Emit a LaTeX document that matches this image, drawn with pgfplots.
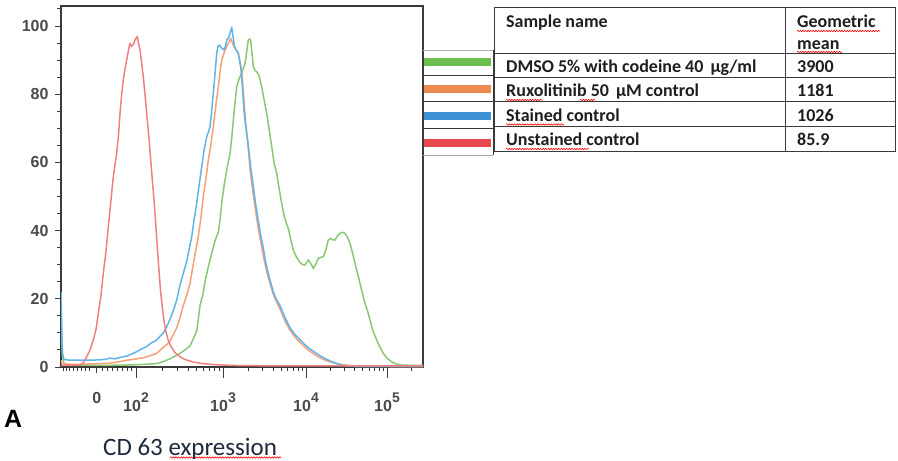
\documentclass[border=0pt]{standalone}
\usepackage{pgfplots}
\pgfplotsset{compat=1.18}
\usepackage{fontspec}
\setmainfont{Liberation Sans}
\newfontfamily\carl{Carlito}
\usetikzlibrary{decorations.pathmorphing}

\definecolor{axgray}{HTML}{3A3A3A}
\definecolor{tickgray}{HTML}{4A4A4A}
\definecolor{cRed}{RGB}{240,128,128}
\definecolor{cBlue}{RGB}{95,180,235}
\definecolor{cOrange}{RGB}{246,160,120}
\definecolor{cGreen}{RGB}{135,200,115}
\definecolor{sGreen}{HTML}{6BBF4E}
\definecolor{sOrange}{HTML}{EF8A4E}
\definecolor{sBlue}{HTML}{3E92D6}
\definecolor{sRed}{HTML}{E9484E}
\definecolor{txt}{HTML}{1E1E1E}
\definecolor{navy}{HTML}{1E2A40}

\newcommand{\dec}[1]{10\raisebox{9bp}{\fontsize{14bp}{14bp}\selectfont #1}}

\begin{document}
\begin{tikzpicture}
\useasboundingbox (0,0) rectangle (898bp,-461bp);
\begin{axis}[
  at={(61bp,-367bp)}, anchor=south west,
  scale only axis, width=362bp, height=361bp,
  xmin=61, xmax=423, ymin=0, ymax=105.87,
  axis line style={axgray, line width=1.6bp},
  tick align=outside,
  xtick pos=left, ytick pos=left,
  tick style={axgray, line width=1bp},
  major tick length=6bp, minor tick length=4bp,
  xtick={96.7,136,223,306,387},
  xticklabels={0,\dec{2},\dec{3},\dec{4},\dec{5}},
  minor xtick={63,66,69.5,73,77,81,85,89,102,107,112,117,122,127,131,
    162.2,177.5,188.4,196.8,203.7,209.5,214.6,219,
    248,262.6,273,281,287.6,293,298,302.2,
    330.4,344.6,354.8,362.6,369,374.4,379.1,383.3,411.4},
  extra x ticks={136,223,306,387},
  extra x tick labels={,,,},
  extra tick style={major tick length=11bp},
  ytick={0,20,40,60,80,100},
  minor ytick={5,10,15,25,30,35,45,50,55,65,70,75,85,90,95,105},
  /pgf/number format/assume math mode=true,
  ticklabel style={font=\fontsize{16bp}{16bp}\selectfont\bfseries, text=tickgray},
  xticklabel style={anchor=north, yshift=-16bp},
  yticklabel style={xshift=-3bp},
  every axis plot/.append style={line width=1.5bp, line join=round, mark=none},
]
% DMSO 5% with codeine 40 ug/ml
\addplot[cGreen] coordinates {
(61,20) (61.8,8) (62.5,3) (64,1) (70,0.5) (90,0.5) (110,0.5) (130,0.6) (145,0.8)
(156.7,1) (163.3,1.6) (170,2.4) (175,3.2) (180,4) (185,5) (190,6.2) (193,8)
(196.7,10.5) (198.3,14) (200,18) (203,21.5) (205,25) (208,29) (211.7,33.3)
(215,37) (218.3,39.5) (220,43) (221.7,48) (224,53) (226.7,57.8) (230,62.7)
(231.7,67) (233.3,72.4) (235,77.5) (236.7,82.2) (239,84.5) (241.7,86.1)
(245,89) (246.5,92) (248.3,95.9) (249.5,96.2) (250.7,95.9) (252,92) (253.3,88)
(255,87) (256.7,86.6) (259,85.5) (261.7,82.2) (264,78.5) (266.7,74.4) (269,70)
(271.7,64.6) (274,60) (276.7,56.8) (279,52.5) (281.7,48) (284,44.5) (286.5,42)
(288.5,40.5) (291,37) (293.3,34.3) (296,32.5) (300,30.6) (303,30) (305,29.9)
(308.3,31.4) (310.5,30.5) (313.3,28.9) (315.5,30) (318.3,31.9) (321,32.2)
(323.3,32.3) (326,34.5) (328,37) (330,37.7) (333,37.3) (335,37.2) (337.5,38.5)
(340,39.2) (342.5,39.5) (345,39.2) (347.5,38) (350,36.3) (352.5,33.5) (355,30.4)
(357.5,27.5) (360,24.5) (362.5,21.5) (365,18.7) (367.5,16.5) (370,13.8)
(373,10.5) (376.7,7.9) (380,5.8) (383.3,4) (387,2.6) (391.7,1.5) (396,0.9)
(400,0.6) (410,0.5) (423,0.5)};
% Ruxolitinib 50 uM control
\addplot[cOrange] coordinates {
(61,2) (62,1) (70,0.8) (80,0.8) (90,0.9) (100,1) (110,1.1) (120,1.6) (126.7,2)
(135,2.3) (143,2.7) (150,3.3) (156.7,4) (163.3,5.8) (166.7,6.6) (170,7.5)
(173.3,9.5) (176.7,11.5) (180,14.5) (183.3,18) (186.7,21) (190,24.5) (191.7,27.5)
(195,33) (198.3,38.2) (201,44) (203.3,50) (206,55.5) (208.3,60.7) (211,65.5)
(213.3,70.5) (216,77) (218.3,82.2) (220,86.5) (221.7,90) (223.5,91.5) (225,93)
(228.3,94.9) (230.7,96.4) (233.3,94.4) (236,93) (238.3,92) (240,89.5)
(241.7,87) (243.5,80) (245.5,72) (248,65) (250,58) (253,51) (255.5,46) (258,41)
(260.5,37) (263,33) (265.5,29.5) (268,26.5) (270.5,24) (273,21.5) (276,19.5)
(280,17) (285,13.5) (290,10.8) (295,8.8) (300,7.2) (305,5.8) (310,4.6)
(315,3.6) (320,2.7) (325,2) (330,1.5) (335,1.1) (340,0.8) (345,0.6) (350,0.4)
(355,0.2) (423,0.1)};
% Stained control
\addplot[cBlue] coordinates {
(61,22) (61.8,10) (62.5,4) (64,2.2) (70,2) (80,2) (90,2) (100,2.1) (106,2.3)
(110,2.6) (115,2.4) (120,2.8) (126.7,3.2) (131,3.7) (136.7,4.5) (141,5.2)
(146.7,6) (151,7) (156.7,7.9) (160,9) (163.3,10) (166.7,11.8) (170,14)
(173.3,16.5) (176.7,19.6) (180,24) (183.3,27.5) (186.7,31) (188.3,33.3)
(191.7,38.2) (194,43) (196.7,48) (199,53) (201.7,58.7) (204,63.5) (206.7,67.5)
(208.5,69) (210,70.5) (211.7,75) (213.3,80.3) (215,86) (216.7,92) (218,94)
(219.3,94.4) (221.7,93.5) (224,93) (225.5,94) (226.7,95.9) (228.5,96.5)
(230,97.8) (231.7,99.6) (233.3,96.4) (234.5,94) (236,93) (238.3,92) (240.7,88)
(242.5,82) (244,75) (246,70) (248.3,65) (250.5,59) (253.3,53) (255.5,48)
(258.3,43) (260.5,39) (263.3,35) (265.5,31) (268.3,27.5) (270.5,25) (273.3,22)
(276,20) (280,18) (285,14.5) (290,11.5) (295,9.5) (300,8) (305,6.5) (310,5.3)
(315,4.3) (320,3.3) (325,2.5) (330,1.8) (335,1.2) (340,0.7) (345,0.4)
(355,0.2) (423,0.2)};
% Unstained control
\addplot[cRed] coordinates {
(61,0.5) (70,0.5) (80,0.6) (84,1.5) (86.7,3) (90,5) (93.3,7.9) (96,11)
(98.3,15.7) (101,21) (103.3,27.5) (106,34) (108.3,41) (111,49) (113.3,55.8)
(116.7,62.7) (118.5,68) (120,74.4) (121.7,80) (123.3,84.2) (125,87.5)
(126.7,90) (128.5,93) (130,94.9) (131.5,94) (132.7,94.4) (134,95) (135,95.9)
(136.3,96.5) (137.3,96.9) (138.5,95) (140,93) (141.5,89.5) (143.3,85.1)
(145.3,79) (147.3,72.4) (149,67) (150.5,61.5) (152,56) (154,49) (155.5,43)
(157,36.5) (158.8,29) (160.5,22.5) (162.3,17.5) (164,13.5) (166,10.3)
(168.3,7.8) (171,6) (175,4.2) (180,3) (185,2.2) (193,1.5) (200,1.1) (210,0.8)
(220,0.6) (240,0.4) (300,0.3) (423,0.3)};
\end{axis}

% legend swatches
\foreach \ya/\yb in {50.7/75,75/101.7,101.7/128.3,128.3/155}{
  \draw[axgray, line width=0.8bp] (423bp,-\ya bp) -- (493bp,-\ya bp) -- (493bp,-\yb bp);
}
\draw[gray!60, line width=0.8bp] (423bp,-50.7bp) -- (493bp,-50.7bp);
\draw[gray!70, line width=0.8bp] (423bp,-155bp) -- (493bp,-155bp);
\draw[sGreen, line width=8bp] (424bp,-62bp) -- (491bp,-62bp);
\draw[sOrange, line width=8bp] (424bp,-89bp) -- (491bp,-89bp);
\draw[sBlue, line width=8bp] (424bp,-116bp) -- (491bp,-116bp);
\draw[sRed, line width=8bp] (424bp,-143bp) -- (491bp,-143bp);

% table
\begin{scope}[line width=0.9bp, draw=axgray]
\foreach \y in {7.3,53.3,77.3,101.7,126,151.7}{
  \draw (494bp,-\y bp) -- (895bp,-\y bp);
}
\foreach \x in {494,785,895}{
  \draw (\x bp,-7.3bp) -- (\x bp,-151.7bp);
}
\end{scope}
\begin{scope}[every node/.style={inner sep=0pt, text=txt, font=\carl\bfseries\fontsize{18bp}{18bp}\selectfont}]
\node[anchor=base west] at (506bp,-27bp) {Sample name};
\node[anchor=base west] at (797bp,-27bp) {Geometric};
\node[anchor=base west] at (797bp,-49.5bp) {mean};
\node[anchor=base west] at (506bp,-72.7bp) {DMSO 5\% with codeine 40\hspace{3bp} μg/ml};
\node[anchor=base west] at (797bp,-72.7bp) {3900};
\node[anchor=base west] at (506bp,-96.7bp) {Ruxolitinib 50\hspace{3bp} μM control};
\node[anchor=base west] at (797bp,-96.7bp) {1181};
\node[anchor=base west] at (506bp,-121bp) {Stained control};
\node[anchor=base west] at (797bp,-121bp) {1026};
\node[anchor=base west] at (506bp,-145.7bp) {Unstained control};
\node[anchor=base west] at (797bp,-145.7bp) {85.9};
\end{scope}

% spell-check squiggles
\begin{scope}[red, line width=0.6bp, decorate, decoration={snake, amplitude=0.7bp, segment length=2.6bp}]
\draw[decorate] (797bp,-31bp) -- (880bp,-31bp);
\draw[decorate] (797bp,-52bp) -- (842bp,-52bp);
\draw[decorate] (506bp,-100bp) -- (542bp,-100bp);
\draw[decorate] (580bp,-100bp) -- (595bp,-100bp);
\draw[decorate] (506bp,-124.5bp) -- (564bp,-124.5bp);
\draw[decorate] (506bp,-149bp) -- (589bp,-149bp);
\draw[decorate] (170bp,-457.5bp) -- (281bp,-457.5bp);
\end{scope}

% labels
\node[anchor=base west, inner sep=0pt, font=\bfseries\fontsize{25bp}{25bp}\selectfont, text=black] at (4bp,-427bp) {A};
\node[anchor=base west, inner sep=0pt, font=\carl\fontsize{25bp}{25bp}\selectfont, text=navy] at (103bp,-455bp) {CD 63 expression};
\end{tikzpicture}
\end{document}
